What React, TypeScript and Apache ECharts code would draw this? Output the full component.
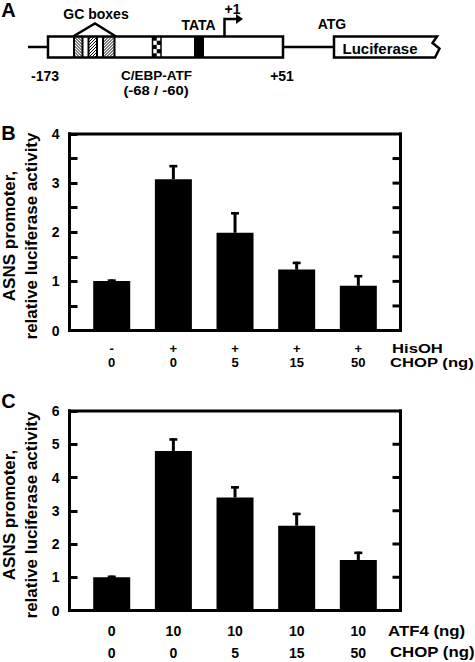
import React, { useEffect, useRef } from "react";
import * as echarts from "echarts";

// ---- data ----
const hisOH = ["-", "+", "+", "+", "+"];
const chopB = ["0", "0", "5", "15", "50"];
const valuesB = [1.01, 3.08, 1.99, 1.24, 0.91];
const errorsB = [0.03, 0.29, 0.42, 0.16, 0.22];
const atf4 = ["0", "10", "10", "10", "10"];
const chopC = ["0", "0", "5", "15", "50"];
const valuesC = [1.0, 4.8, 3.4, 2.55, 1.52];
const errorsC = [0.05, 0.38, 0.34, 0.39, 0.25];
const yMaxB = 4;
const yStepB = 0.5;
const yMaxC = 6;
const yStepC = 1;

const FONT = '"Liberation Sans", Arial, sans-serif';

// layout (pixels)
const FRAME_L = 69.5;
const FRAME_W = 331;
const BAR_L = 80.9;
const BAR_W = 308.25;
const B_TOP = 134;
const B_H = 196.5;
const C_TOP = 411;
const C_H = 199.5;

function txt(text: string, x: number, y: number, size: number, align = "center", extra: any = {}) {
  const { style, ...rest } = extra;
  return {
    type: "text",
    x,
    y,
    ...rest,
    style: {
      text,
      fill: "#000",
      fontFamily: FONT,
      fontWeight: "bold",
      fontSize: size,
      align,
      verticalAlign: "middle",
      ...(style || {}),
    },
  };
}

function hatch(x0: number, x1: number, y0: number, y1: number, dir: number) {
  const out: any[] = [];
  const step = 3;
  if (dir > 0) {
    for (let k = x0 + y0; k <= x1 + y1; k += step) {
      const xa = Math.max(x0, k - y1);
      const xb = Math.min(x1, k - y0);
      if (xb > xa) out.push({ type: "line", shape: { x1: xa, y1: k - xa, x2: xb, y2: k - xb }, style: { stroke: "#000", lineWidth: 1 } });
    }
  } else {
    for (let k = x0 - y1; k <= x1 - y0; k += step) {
      const xa = Math.max(x0, k + y0);
      const xb = Math.min(x1, k + y1);
      if (xb > xa) out.push({ type: "line", shape: { x1: xa, y1: xa - k, x2: xb, y2: xb - k }, style: { stroke: "#000", lineWidth: 1 } });
    }
  }
  return out;
}

function diagram() {
  const top = 36.5;
  const bot = 57.5;
  const mid = 47;
  const els: any[] = [];
  const stroke = { stroke: "#000", lineWidth: 2.5 };
  els.push({ type: "line", shape: { x1: 28, y1: mid, x2: 48, y2: mid }, style: stroke });
  els.push({ type: "line", shape: { x1: 283, y1: mid, x2: 334, y2: mid }, style: stroke });
  els.push({ type: "rect", shape: { x: 48, y: top, width: 235, height: bot - top }, style: { fill: "#fff", ...stroke } });
  const cells = [
    [74, 82.5, -1],
    [88.5, 97, 1],
    [103, 114.5, 1],
  ];
  cells.forEach(([a, b, d]) => {
    hatch(a, b, top, bot, d).forEach((l) => els.push(l));
    els.push({ type: "line", shape: { x1: a, y1: top, x2: a, y2: bot }, style: { stroke: "#000", lineWidth: 2 } });
    els.push({ type: "line", shape: { x1: b, y1: top, x2: b, y2: bot }, style: { stroke: "#000", lineWidth: 2 } });
  });
  els.push({ type: "polyline", shape: { points: [[73, top], [95, 23.5], [116, top]] }, style: { stroke: "#000", lineWidth: 2.5, fill: null } });
  const cx0 = 152.5, cw = 4.25, rows = 5, rh = (bot - top) / rows;
  for (let r = 0; r < rows; r++) {
    for (let c = 0; c < 2; c++) {
      if ((r + c) % 2 === 0) {
        els.push({ type: "rect", shape: { x: cx0 + c * cw, y: top + r * rh, width: cw, height: rh }, style: { fill: "#000" } });
      }
    }
  }
  els.push({ type: "line", shape: { x1: cx0, y1: top, x2: cx0, y2: bot }, style: { stroke: "#000", lineWidth: 1.5 } });
  els.push({ type: "line", shape: { x1: cx0 + 2 * cw, y1: top, x2: cx0 + 2 * cw, y2: bot }, style: { stroke: "#000", lineWidth: 1.5 } });
  els.push({ type: "rect", shape: { x: 194, y: top, width: 10, height: bot - top }, style: { fill: "#000" } });
  els.push({ type: "polyline", shape: { points: [[224.5, top], [224.5, 19], [238, 19]] }, style: { stroke: "#000", lineWidth: 2.5, fill: null } });
  els.push({ type: "polygon", shape: { points: [[236, 14], [243, 19], [236, 24]] }, style: { fill: "#000" } });
  els.push({
    type: "polygon",
    shape: { points: [[334, top], [437, top], [432.5, 43], [439.5, 48.5], [435, bot], [334, bot]] },
    style: { fill: "#fff", stroke: "#000", lineWidth: 2.5 },
  });
  els.push(txt("Luciferase", 380, mid + 1, 15));
  els.push(txt("GC boxes", 96, 13.5, 14));
  els.push(txt("TATA", 198.5, 25, 14));
  els.push(txt("+1", 232.5, 8.5, 14));
  els.push(txt("ATG", 332, 24, 14));
  els.push(txt("-173", 45, 75.5, 14));
  els.push(txt("C/EBP-ATF", 156.5, 75.5, 13.5));
  els.push(txt("(-68 / -60)", 156, 90.5, 13.5, "center", { scaleX: 1.1 }));
  els.push(txt("+51", 282, 75.5, 14));
  return els;
}

// plot frame drawn as filled black bars, plus inward ticks on the right edge
function frame(top: number, h: number, yMax: number, step: number) {
  const els: any[] = [];
  const t = 3;
  const xL = FRAME_L - t / 2;
  const xR = FRAME_L + FRAME_W;
  const w = FRAME_W + t;
  els.push({ type: "rect", shape: { x: xL, y: top - t / 2, width: w, height: t }, style: { fill: "#000" } });
  els.push({ type: "rect", shape: { x: xL, y: top + h - t / 2, width: w, height: t }, style: { fill: "#000" } });
  els.push({ type: "rect", shape: { x: xL, y: top - t / 2, width: t, height: h + t }, style: { fill: "#000" } });
  els.push({ type: "rect", shape: { x: xR - t / 2, y: top - t / 2, width: t, height: h + t }, style: { fill: "#000" } });
  const n = Math.round(yMax / step);
  for (let k = 1; k < n; k++) {
    const y = top + h - (k * step * h) / yMax;
    els.push({ type: "rect", shape: { x: xR - 8, y: y - t / 2, width: 8, height: t }, style: { fill: "#000" } });
  }
  return els;
}

function errSeries(vals: number[], errs: number[], xi: number, yi: number) {
  return {
    type: "custom",
    xAxisIndex: xi,
    yAxisIndex: yi,
    data: vals.map((v, i) => [i, v, errs[i]]),
    renderItem: (_p: any, api: any) => {
      const i = api.value(0);
      const v = api.value(1);
      const e = api.value(2);
      const p0 = api.coord([i, v]);
      const p1 = api.coord([i, v + e]);
      return {
        type: "group",
        children: [
          { type: "line", shape: { x1: p0[0], y1: p0[1], x2: p0[0], y2: p1[1] }, style: { stroke: "#000", lineWidth: 3 } },
          { type: "line", shape: { x1: p1[0] - 4, y1: p1[1] + 1.2, x2: p1[0] + 4, y2: p1[1] + 1.2 }, style: { stroke: "#000", lineWidth: 2.6 } },
        ],
      };
    },
    z: 3,
  };
}

function frameY(max: number, interval: number, grid: number) {
  return {
    gridIndex: grid,
    type: "value",
    position: "left",
    min: 0,
    max,
    interval,
    axisLine: { show: true, onZero: false, lineStyle: { color: "#000", width: 3 } },
    splitLine: { show: false },
    axisTick: { show: true, inside: true, length: 8, lineStyle: { color: "#000", width: 3 } },
    axisLabel: {
      show: true,
      margin: 10,
      color: "#000",
      fontFamily: FONT,
      fontWeight: "bold",
      fontSize: 14,
      formatter: (v: number) => (Number.isInteger(v) ? String(v) : ""),
    },
  };
}

function catX(grid: number, r1: string[], r2: string[], size: number, lh: number, margin: number) {
  return {
    gridIndex: grid,
    type: "category",
    data: r1.map((a, i) => a + " " + r2[i]),
    axisLine: { show: false },
    axisTick: { show: false },
    splitLine: { show: false },
    axisLabel: {
      interval: 0,
      margin,
      formatter: (_v: string, i: number) => `{a|${r1[i]}}\n{a|${r2[i]}}`,
      rich: { a: { fontFamily: FONT, fontWeight: "bold", fontSize: size, color: "#000", lineHeight: lh } },
    },
  };
}

export default function App() {
  const ref = useRef<HTMLDivElement>(null);
  useEffect(() => {
    document.body.style.margin = "0";
    const chart = echarts.init(ref.current!, null, { renderer: "svg" });
    const option: any = {
      animation: false,
      backgroundColor: "#fff",
      grid: [
        { left: FRAME_L, top: B_TOP, width: FRAME_W, height: B_H },
        { left: BAR_L, top: B_TOP, width: BAR_W, height: B_H },
        { left: FRAME_L, top: C_TOP, width: FRAME_W, height: C_H },
        { left: BAR_L, top: C_TOP, width: BAR_W, height: C_H },
      ],
      xAxis: [
        { gridIndex: 0, type: "value", min: 0, max: 1, show: false },
        catX(1, hisOH, chopB, 13, 14, 11),
        { gridIndex: 2, type: "value", min: 0, max: 1, show: false },
        catX(3, atf4, chopC, 14, 21.5, 9.75),
      ],
      yAxis: [
        frameY(yMaxB, yStepB, 0),
        { gridIndex: 1, type: "value", min: 0, max: yMaxB, show: false, splitLine: { show: false } },
        frameY(yMaxC, yStepC, 2),
        { gridIndex: 3, type: "value", min: 0, max: yMaxC, show: false, splitLine: { show: false } },
      ],
      series: [
        { type: "bar", xAxisIndex: 1, yAxisIndex: 1, data: valuesB, barWidth: 37, itemStyle: { color: "#000" }, z: 2 },
        errSeries(valuesB, errorsB, 1, 1),
        { type: "bar", xAxisIndex: 3, yAxisIndex: 3, data: valuesC, barWidth: 37, itemStyle: { color: "#000" }, z: 2 },
        errSeries(valuesC, errorsC, 3, 3),
      ],
      graphic: [
        ...frame(B_TOP, B_H, yMaxB, yStepB),
        ...frame(C_TOP, C_H, yMaxC, yStepC),
        ...diagram(),
        txt("A", 8.5, 10, 20),
        txt("B", 8.5, 132.5, 20),
        txt("C", 8.5, 400.5, 20),
        txt("ASNS promoter,\nrelative luciferase activity", 20, 236, 17, "center", {
          rotation: Math.PI / 2,
          style: { lineHeight: 22 },
        }),
        txt("ASNS promoter,\nrelative luciferase activity", 20, 515, 17, "center", {
          rotation: Math.PI / 2,
          style: { lineHeight: 22 },
        }),
        txt("HisOH", 392, 348, 13, "left", { scaleX: 1.28 }),
        txt("CHOP (ng)", 390, 362.5, 13, "left", { scaleX: 1.28 }),
        txt("ATF4 (ng)", 388, 631, 14, "left", { scaleX: 1.2 }),
        txt("CHOP (ng)", 390, 652.5, 14, "left", { scaleX: 1.2 }),
      ],
    };
    chart.setOption(option);
    return () => chart.dispose();
  }, []);
  return <div ref={ref} style={{ width: 475, height: 662 }} />;
}
